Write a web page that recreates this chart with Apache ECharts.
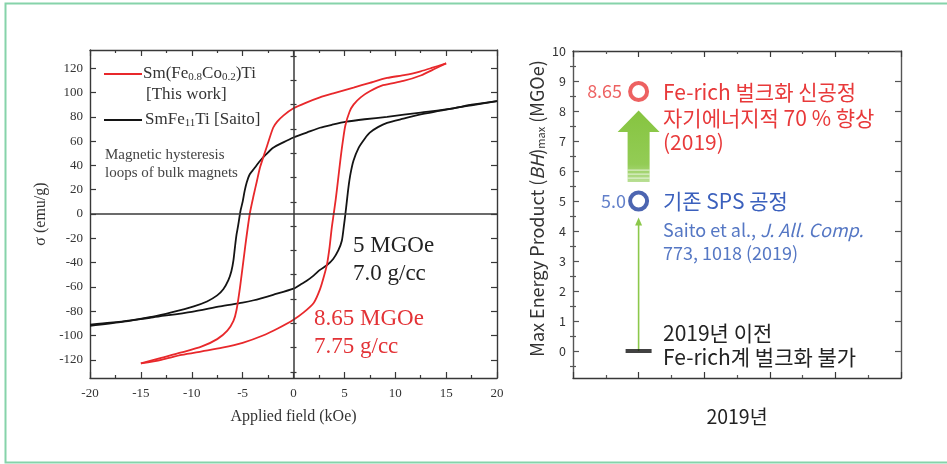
<!DOCTYPE html>
<html>
<head>
<meta charset="utf-8">
<script src="https://cdn.jsdelivr.net/npm/echarts@6/dist/echarts.min.js"></script>
<style>
html,body{margin:0;padding:0;background:#fff;}
#chart{width:947px;height:464px;}
</style>
</head>
<body>
<div id="chart"></div>
<script>
// ---------- Left panel: hysteresis loops (field kOe, sigma emu/g) ----------
const redDescending = [[15,124],[13.5,120],[12.5,117.5],[11,114.5],[9.2,112],[7.5,108],[5.9,104],[4,99.5],[2.6,96],[1.2,91.5],[0,87],[-1,81],[-1.6,76],[-2,71],[-2.6,56],[-3.0,46],[-3.3,38],[-3.6,27],[-3.9,16],[-4.3,0],[-4.75,-27],[-5.25,-60],[-5.6,-79],[-5.9,-88],[-6.5,-96],[-7.5,-103],[-9,-109],[-11,-114],[-13,-118.5],[-15,-123]];
const redAscending = [[-15,-123],[-13,-120],[-11,-116],[-9,-113],[-7,-110],[-5,-106],[-3,-100],[-1.5,-94],[0,-87],[1,-81],[2,-73],[2.6,-62],[3.0,-51],[3.3,-41],[3.55,-27],[3.75,-12],[3.95,0],[4.15,12],[4.35,26],[4.6,44],[4.85,60],[5.1,73],[5.5,84],[5.9,90],[6.6,96],[7.5,101],[8.8,106],[10.8,109.5],[12.5,114],[14,120],[15,124]];
const blackDescending = [[20,93],[17.5,90],[15.7,87],[12.5,83.5],[9.2,80],[7,78],[5.2,76],[3.8,73.5],[2.6,71],[1.3,67],[0,63],[-1,59],[-2,54.5],[-2.7,49],[-3.3,43.6],[-3.9,37],[-4.3,32.7],[-4.6,26],[-4.8,19],[-5.0,10],[-5.2,3],[-5.3,-2],[-5.45,-10],[-5.6,-17],[-5.75,-27],[-5.9,-38],[-6.1,-47],[-6.4,-54.5],[-6.9,-62],[-7.5,-67],[-8.5,-72],[-9.8,-76],[-12,-81],[-13.8,-84.5],[-16,-87.5],[-18,-89.5],[-20,-91]];
const blackAscending = [[-20,-92],[-17,-89],[-13.8,-85],[-10,-80.5],[-7.2,-76],[-5,-73],[-3.9,-71],[-2,-66.5],[0,-61.5],[0.7,-58],[1.3,-55],[2,-50.5],[2.6,-46],[3.3,-42],[3.9,-37],[4.4,-30],[4.75,-22],[4.95,-10],[5.1,0],[5.25,11],[5.4,22],[5.6,33],[5.9,44],[6.4,54.5],[7,62],[7.5,67],[8.3,71.5],[9.2,75],[10.8,78.5],[12.5,82],[15.7,87],[17.5,89.5],[20,93]];
const leftYTicks = [-120,-100,-80,-60,-40,-20,0,20,40,60,80,100,120];
const leftYMinor = [-130,-110,-90,-70,-50,-30,-10,10,30,50,70,90,110,130];

// ---------- Right panel: max energy product ----------
const bhX = 2;                       // horizontal slot of the 2019 marks
const bhValues = [8.65, 5.0];        // (BH)max, MGOe
const bhLabels = ['8.65', '5.0'];
const bhColors = ['#e8393a', '#1f3f9e'];
const bigArrow = [5.63, 7.3, 8.02];  // shaft bottom, head base, tip
const thinArrow = [0, 4.45];         // start, tip
const baseline = [0];                // pre-2019 level
const rightYTicks = [0,1,2,3,4,5,6,7,8,9,10];
const rightYMinor = [-0.5,0.5,1.5,2.5,3.5,4.5,5.5,6.5,7.5,8.5,9.5];

const SERIF = '"Liberation Serif","DejaVu Serif",serif';
const SANS = '"Noto Sans CJK KR","Noto Sans",sans-serif';
const axisCol = '#383838';

function mkAxisBase(extra){
  return Object.assign({
    axisLine:{show:true,onZero:false,lineStyle:{color:axisCol,width:1.4}},
    splitLine:{show:false},
    axisTick:{show:true,inside:true,length:6,lineStyle:{color:axisCol,width:1.2}},
    minorTick:{show:false},
  }, extra);
}

const chart = echarts.init(document.getElementById('chart'), null, {renderer:'canvas'});

const option = {
  animation:false,
  backgroundColor:'#fff',
  grid:[
    {left:90, top:50, width:407, height:328},
    {left:573, top:51, width:328, height:327}
  ],
  xAxis:[
    mkAxisBase({gridIndex:0,type:'value',min:-20,max:20,interval:5,position:'bottom',
      minorTick:{show:true,splitNumber:2,length:3,lineStyle:{color:axisCol,width:1.2}},
      axisLabel:{fontFamily:SERIF,fontSize:13,color:'#333',margin:9},
      name:'Applied field (kOe)',nameLocation:'middle',nameGap:31,
      nameTextStyle:{fontFamily:SERIF,fontSize:16,color:'#333'}}),
    mkAxisBase({gridIndex:0,type:'value',min:-20,max:20,interval:5,position:'top',
      minorTick:{show:true,splitNumber:2,length:3,lineStyle:{color:axisCol,width:1.2}},
      axisLabel:{show:false}}),
    mkAxisBase({gridIndex:1,type:'value',min:0,max:10,interval:2,position:'bottom',
      minorTick:{show:true,splitNumber:2,length:3,lineStyle:{color:'#555',width:1.2}},
      axisLabel:{show:false},
      name:'2019년',nameLocation:'middle',nameGap:29,
      nameTextStyle:{fontFamily:SANS,fontSize:19.5,color:'#222'}}),
    mkAxisBase({gridIndex:1,type:'value',min:0,max:10,interval:2,position:'top',
      minorTick:{show:true,splitNumber:2,length:3,lineStyle:{color:'#555',width:1.2}},
      axisLabel:{show:false}})
  ],
  yAxis:[
    mkAxisBase({gridIndex:0,type:'value',min:-135,max:135,position:'left',
      axisTick:{show:true,inside:true,length:6,customValues:leftYTicks,lineStyle:{color:axisCol,width:1.2}},
      axisLabel:{customValues:leftYTicks,fontFamily:SERIF,fontSize:13,color:'#333',margin:7},
      name:'σ (emu/g)',nameLocation:'middle',nameGap:41,nameRotate:90,
      nameTextStyle:{fontFamily:SERIF,fontSize:16,color:'#333'}}),
    mkAxisBase({gridIndex:0,type:'value',min:-135,max:135,position:'right',
      axisTick:{show:true,inside:true,length:6,customValues:leftYTicks,lineStyle:{color:axisCol,width:1.2}},
      axisLabel:{show:false}}),
    mkAxisBase({gridIndex:0,type:'value',min:-135,max:135,position:'left',
      axisLine:{show:false},
      axisTick:{show:true,inside:true,length:3,customValues:leftYMinor,lineStyle:{color:axisCol,width:1.2}},
      axisLabel:{show:false}}),
    mkAxisBase({gridIndex:0,type:'value',min:-135,max:135,position:'right',
      axisLine:{show:false},
      axisTick:{show:true,inside:true,length:3,customValues:leftYMinor,lineStyle:{color:axisCol,width:1.2}},
      axisLabel:{show:false}}),
    mkAxisBase({gridIndex:1,type:'value',min:-0.9,max:10,position:'left',
      axisLine:{show:true,onZero:false,lineStyle:{color:'#555',width:1.4}},
      axisTick:{show:true,inside:true,length:6,customValues:rightYTicks,lineStyle:{color:'#555',width:1.2}},
      axisLabel:{customValues:rightYTicks,fontFamily:SANS,fontSize:12.5,color:'#333',margin:7},
      name:'{n|Max Energy Product (}{i|BH}{n|)}{s|max}{n| (MGOe)}',nameLocation:'middle',nameGap:27,nameRotate:90,
      nameTextStyle:{fontFamily:SANS,fontSize:18,color:'#333',padding:[0,0,0,12],
        rich:{n:{fontFamily:SANS,fontSize:18,color:'#333'},
              i:{fontFamily:SANS,fontSize:18,color:'#333',fontStyle:'italic'},
              s:{fontFamily:SANS,fontSize:11,color:'#333',verticalAlign:'bottom'}}}}),
    mkAxisBase({gridIndex:1,type:'value',min:-0.9,max:10,position:'right',
      axisLine:{show:true,onZero:false,lineStyle:{color:'#555',width:1.4}},
      axisTick:{show:true,inside:true,length:6,customValues:rightYTicks,lineStyle:{color:'#555',width:1.2}},
      axisLabel:{show:false}}),
    mkAxisBase({gridIndex:1,type:'value',min:-0.9,max:10,position:'left',
      axisLine:{show:false},
      axisTick:{show:true,inside:true,length:3,customValues:rightYMinor,lineStyle:{color:'#555',width:1.2}},
      axisLabel:{show:false}}),
    mkAxisBase({gridIndex:1,type:'value',min:-0.9,max:10,position:'right',
      axisLine:{show:false},
      axisTick:{show:true,inside:true,length:3,customValues:rightYMinor,lineStyle:{color:'#555',width:1.2}},
      axisLabel:{show:false}})
  ],
  series:[
    {type:'line',xAxisIndex:0,yAxisIndex:0,data:blackDescending,showSymbol:false,smooth:0.25,
      lineStyle:{color:'#141414',width:1.8},z:3,
      markLine:{silent:true,symbol:['none','none'],label:{show:false},
        lineStyle:{color:'#3a3a3a',width:1.5,type:'solid'},
        data:[{xAxis:0},{yAxis:0}]}},
    {type:'line',xAxisIndex:0,yAxisIndex:0,data:blackAscending,showSymbol:false,smooth:0.25,
      lineStyle:{color:'#141414',width:1.8},z:3},
    {type:'line',xAxisIndex:0,yAxisIndex:0,data:redDescending,showSymbol:false,smooth:0.25,
      lineStyle:{color:'#e8282b',width:1.8},z:4},
    {type:'line',xAxisIndex:0,yAxisIndex:0,data:redAscending,showSymbol:false,smooth:0.25,
      lineStyle:{color:'#e8282b',width:1.8},z:4},
    // thin green arrow (pre-2019 -> SPS)
    {type:'custom',xAxisIndex:2,yAxisIndex:4,data:[[bhX,thinArrow[0],thinArrow[1]]],z:2,
      renderItem:function(params,api){
        const p0 = api.coord([api.value(0),api.value(1)]);
        const p1 = api.coord([api.value(0),api.value(2)]);
        return {type:'group',children:[
          {type:'line',shape:{x1:p0[0],y1:p0[1],x2:p1[0],y2:p1[1]+4},style:{stroke:'#8cc84b',lineWidth:1.6}},
          {type:'polygon',shape:{points:[[p1[0],p1[1]],[p1[0]-3.5,p1[1]+8],[p1[0]+3.5,p1[1]+8]]},style:{fill:'#8cc84b'}}
        ]};
      }},
    // big green arrow (SPS -> new process)
    {type:'custom',xAxisIndex:2,yAxisIndex:4,data:[[bhX,bigArrow[0],bigArrow[1],bigArrow[2]]],z:2,
      renderItem:function(params,api){
        const b = api.coord([api.value(0),api.value(1)]);
        const h = api.coord([api.value(0),api.value(2)]);
        const t = api.coord([api.value(0),api.value(3)]);
        const sw = 11, hw = 21, x = b[0];
        const grad = new echarts.graphic.LinearGradient(0,0,0,1,[
          {offset:0,color:'#86c440'},{offset:0.75,color:'#93cc55'},{offset:1,color:'#b9df95'}]);
        const kids = [{type:'polygon',shape:{points:[
            [x-sw,b[1]],[x-sw,h[1]],[x-hw,h[1]],[x,t[1]],[x+hw,h[1]],[x+sw,h[1]],[x+sw,b[1]]]},
          style:{fill:grad}}];
        for (let k=1;k<=3;k++){
          kids.push({type:'line',shape:{x1:x-sw,y1:b[1]-k*4,x2:x+sw,y2:b[1]-k*4},style:{stroke:'rgba(255,255,255,0.75)',lineWidth:1}});
        }
        return {type:'group',children:kids};
      }},
    // pre-2019 baseline bar
    {type:'scatter',xAxisIndex:2,yAxisIndex:4,data:baseline.map(v=>[bhX,v]),symbol:'rect',symbolSize:[26,4],
      itemStyle:{color:'#111'},z:3},
    // energy product circles
    {type:'scatter',xAxisIndex:2,yAxisIndex:4,z:5,
      data:bhValues.map((v,i)=>({value:[bhX,v],
        itemStyle:{color:'#fff',borderColor:bhColors[i],borderWidth:4},
        label:{show:true,position:'left',distance:i===0?6:2,formatter:bhLabels[i],
          fontFamily:SANS,fontSize:18,color:i===0?'#e8393a':'#3b60bd'}})),
      symbol:'circle',symbolSize:17}
  ],
  graphic:[
    {type:'rect',shape:{x:5.5,y:3.5,width:1000,height:459},style:{fill:'none',stroke:'#86d3aa',lineWidth:2},silent:true},
    // legend (left panel)
    {type:'line',shape:{x1:104,y1:74,x2:142,y2:74},style:{stroke:'#e8282b',lineWidth:2}},
    {type:'text',x:143,y:74,style:{
      text:'{a|Sm(Fe}{s|0.8}{a|Co}{s|0.2}{a|)Ti}',verticalAlign:'middle',
      rich:{a:{fontFamily:SERIF,fontSize:17,fill:'#333'},s:{fontFamily:SERIF,fontSize:11,fill:'#333',verticalAlign:'bottom'}}}},
    {type:'text',x:146,y:95,style:{text:'[This work]',fontFamily:SERIF,fontSize:17,fill:'#333',verticalAlign:'middle'}},
    {type:'line',shape:{x1:104,y1:120,x2:142,y2:120},style:{stroke:'#141414',lineWidth:2}},
    {type:'text',x:145,y:120,style:{
      text:'{a|SmFe}{s|11}{a|Ti [Saito]}',verticalAlign:'middle',
      rich:{a:{fontFamily:SERIF,fontSize:17,fill:'#333'},s:{fontFamily:SERIF,fontSize:11,fill:'#333',verticalAlign:'bottom'}}}},
    {type:'text',x:105,y:155,style:{text:'Magnetic hysteresis',fontFamily:SERIF,fontSize:15,fill:'#444',verticalAlign:'middle'}},
    {type:'text',x:105,y:173,style:{text:'loops of bulk magnets',fontFamily:SERIF,fontSize:15,fill:'#444',verticalAlign:'middle'}},
    {type:'text',x:353,y:246,style:{text:'5 MGOe',fontFamily:SERIF,fontSize:23,fill:'#222',verticalAlign:'middle'}},
    {type:'text',x:353,y:274,style:{text:'7.0 g/cc',fontFamily:SERIF,fontSize:23,fill:'#222',verticalAlign:'middle'}},
    {type:'text',x:314,y:319,style:{text:'8.65 MGOe',fontFamily:SERIF,fontSize:23,fill:'#e33236',verticalAlign:'middle'}},
    {type:'text',x:314,y:347,style:{text:'7.75 g/cc',fontFamily:SERIF,fontSize:23,fill:'#e33236',verticalAlign:'middle'}},
    // right panel annotations
    {type:'text',x:663,y:92,style:{text:'Fe-rich 벌크화 신공정',fontFamily:SANS,fontSize:21,fill:'#e8393a',verticalAlign:'middle'}},
    {type:'text',x:663,y:118,style:{text:'자기에너지적 70 % 향상',fontFamily:SANS,fontSize:21,fill:'#e8393a',verticalAlign:'middle'}},
    {type:'text',x:663,y:142,style:{text:'(2019)',fontFamily:SANS,fontSize:21,fill:'#e8393a',verticalAlign:'middle'}},
    {type:'text',x:663,y:201,style:{text:'기존 SPS 공정',fontFamily:SANS,fontSize:21,fill:'#3b60bd',verticalAlign:'middle'}},
    {type:'text',x:663,y:230,style:{
      text:'{n|Saito et al., }{i|J. All. Comp.}',verticalAlign:'middle',
      rich:{n:{fontFamily:SANS,fontSize:18,fill:'#5577c4'},i:{fontFamily:SANS,fontSize:18,fill:'#5577c4',fontStyle:'italic'}}}},
    {type:'text',x:663,y:253,style:{text:'773, 1018 (2019)',fontFamily:SANS,fontSize:18,fill:'#5577c4',verticalAlign:'middle'}},
    {type:'text',x:663,y:333,style:{text:'2019년 이전',fontFamily:SANS,fontSize:21,fill:'#222',verticalAlign:'middle'}},
    {type:'text',x:663,y:357,style:{text:'Fe-rich계 벌크화 불가',fontFamily:SANS,fontSize:21,fill:'#222',verticalAlign:'middle'}}
  ]
};
chart.setOption(option);
</script>
</body>
</html>
